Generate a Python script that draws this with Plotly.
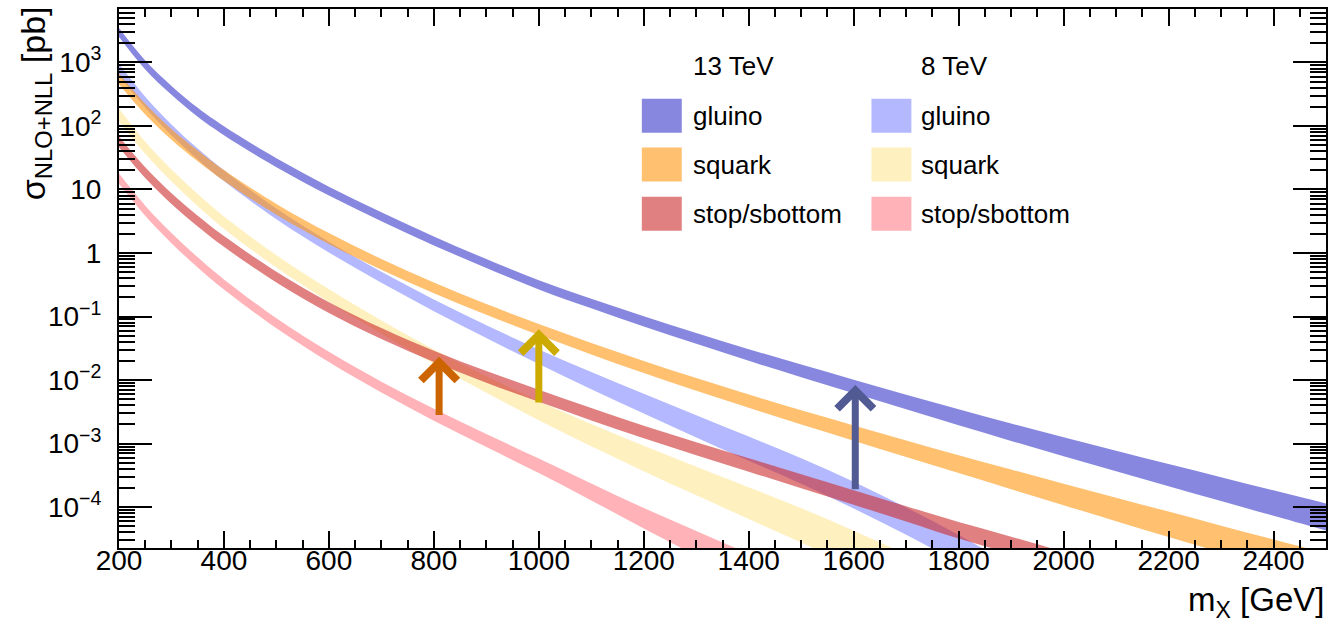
import numpy as np
import plotly.graph_objects as go

# ---------------- data ----------------
# central cross section (pb) and multiplicative uncertainty factor of the band (upper = xs*f, lower = xs/f)
m_gluino13 = [200, 250, 300, 350, 400, 500, 600, 700, 800, 900, 1000, 1100, 1200, 1300, 1400, 1500, 1600,
              1700, 1800, 1900, 2000, 2100, 2200, 2300, 2400, 2500]
xs_gluino13 = [2951, 912, 363, 164, 84.1, 26.3, 9.44, 3.72, 1.549, 0.684, 0.316, 0.1603, 0.0841, 0.0452,
               0.0248, 0.01396, 0.00794, 0.00452, 0.0026, 0.001514, 0.000891, 0.000531, 0.000318,
               0.000192, 0.0001159, 7.0e-5]
f_gluino13 = [1.175, 1.175, 1.175, 1.175, 1.175, 1.175, 1.175, 1.175, 1.175, 1.175, 1.180, 1.189, 1.202,
              1.216, 1.236, 1.259, 1.280, 1.303, 1.334, 1.371, 1.413, 1.452, 1.496, 1.542, 1.585, 1.633]

m_squark13 = [200, 250, 300, 350, 400, 500, 600, 700, 800, 900, 1000, 1100, 1200, 1300, 1400, 1500, 1600,
              1700, 1800, 1900, 2000, 2100, 2200, 2300, 2400, 2500]
xs_squark13 = [549.5, 184.1, 73.96, 33.73, 16.63, 4.875, 1.694, 0.6622, 0.2818, 0.1294, 0.06252, 0.03119,
               0.01611, 0.008551, 0.004656, 0.002588, 0.001469, 0.000832, 0.0004753, 0.0002735, 0.0001585,
               9.204e-5, 5.37e-5, 3.141e-5, 1.845e-5, 1.086e-5]
f_squark13 = [1.216, 1.216, 1.216, 1.216, 1.216, 1.216, 1.216, 1.216, 1.216, 1.216, 1.220, 1.230, 1.245,
              1.259, 1.274, 1.294, 1.318, 1.349, 1.380, 1.429, 1.479, 1.531, 1.585, 1.622, 1.679, 1.738]

m_stop13 = [200, 250, 300, 350, 400, 500, 600, 700, 800, 900, 1000, 1100, 1200, 1300, 1400, 1500, 1600,
            1700, 1800, 1900, 2000]
xs_stop13 = [56.23, 18.41, 7.194, 3.177, 1.524, 0.4178, 0.1387, 0.0542, 0.02366, 0.01125, 0.005662,
             0.002904, 0.001524, 0.000832, 0.0004613, 0.0002559, 0.0001422, 7.852e-5, 4.315e-5, 2.512e-5,
             1.413e-5]
f_stop13 = [1.216, 1.216, 1.216, 1.216, 1.216, 1.216, 1.216, 1.220, 1.228, 1.236, 1.245, 1.252, 1.259,
            1.266, 1.274, 1.288, 1.303, 1.318, 1.349, 1.365, 1.400]

m_gluino8 = [200, 250, 300, 350, 400, 500, 600, 700, 800, 900, 1000, 1100, 1200, 1300, 1400, 1500, 1600,
             1700, 1800, 1900]
xs_gluino8 = [776.2, 237.7, 87.1, 36.22, 16.48, 4.13, 1.239, 0.415, 0.1503, 0.0578, 0.02333, 0.009795,
              0.004246, 0.001875, 0.0008356, 0.0003698, 0.0001549, 6.026e-5, 2.188e-5, 7.413e-6]
f_gluino8 = [1.230, 1.216, 1.216, 1.216, 1.216, 1.216, 1.216, 1.220, 1.235, 1.262, 1.303, 1.365, 1.429,
             1.496, 1.549, 1.585, 1.622, 1.641, 1.660, 1.679]

m_squark8 = [200, 250, 300, 350, 400, 500, 600, 700, 800, 900, 1000, 1100, 1200, 1300, 1400, 1500, 1600, 1700]
xs_squark8 = [147.9, 45.29, 16.6, 6.792, 3.006, 0.7379, 0.2133, 0.06823, 0.02344, 0.008511, 0.003296,
              0.001358, 0.0005834, 0.0002576, 0.0001156, 5.152e-5, 2.228e-5, 9.268e-6]
f_squark8 = [1.259, 1.245, 1.245, 1.245, 1.245, 1.252, 1.259, 1.272, 1.295, 1.345, 1.413, 1.496, 1.585,
             1.679, 1.778, 1.862, 1.905, 1.950]

m_stop8 = [200, 250, 300, 350, 400, 500, 600, 700, 800, 900, 1000, 1100, 1200, 1300, 1400]
xs_stop8 = [14.79, 4.634, 1.714, 0.7129, 0.3199, 0.07852, 0.02312, 0.007745, 0.002844, 0.001122,
            0.0004467, 0.0001738, 6.683e-5, 2.692e-5, 1.072e-5]
f_stop8 = [1.202, 1.202, 1.202, 1.202, 1.202, 1.202, 1.205, 1.220, 1.240, 1.265, 1.300, 1.360, 1.450,
           1.570, 1.720]

# arrows: mass, start (8 TeV) and end (13 TeV) cross section in pb
arrow_mass = [810, 1000, 1603]
arrow_from = [0.00266, 0.00422, 0.000182]
arrow_to = [0.0234, 0.063, 0.0084]
arrow_colors = ["#cc6400", "#ccaa00", "#515a92"]

legend_headers = ["13 TeV", "8 TeV"]
legend_names = ["gluino", "squark", "stop/sbottom"]

x_tickvals = [200, 400, 600, 800, 1000, 1200, 1400, 1600, 1800, 2000, 2200, 2400]
y_tickvals = [1e-4, 1e-3, 1e-2, 1e-1, 1, 10, 100, 1000]
y_ticktext = ["10<sup>\u22124</sup>", "10<sup>\u22123</sup>", "10<sup>\u22122</sup>", "10<sup>\u22121</sup>",
              "1", "10", "10<sup>2</sup>", "10<sup>3</sup>"]

# ---------------- styling ----------------
FONT = "Liberation Sans, Arial, Helvetica, sans-serif"
col = {
    ("gluino", 13): "rgba(55,55,203,0.6)",
    ("squark", 13): "rgba(255,150,17,0.6)",
    ("stop/sbottom", 13): "rgba(203,43,43,0.6)",
    ("gluino", 8): "rgba(103,113,255,0.5)",
    ("squark", 8): "rgba(255,225,129,0.5)",
    ("stop/sbottom", 8): "rgba(255,103,113,0.5)",
}

bands = [
    ("gluino", 8, m_gluino8, xs_gluino8, f_gluino8),
    ("squark", 8, m_squark8, xs_squark8, f_squark8),
    ("stop/sbottom", 8, m_stop8, xs_stop8, f_stop8),
    ("gluino", 13, m_gluino13, xs_gluino13, f_gluino13),
    ("squark", 13, m_squark13, xs_squark13, f_squark13),
    ("stop/sbottom", 13, m_stop13, xs_stop13, f_stop13),
]

fig = go.Figure()
for name, e, m, xs, f in bands:
    xs = np.array(xs)
    f = np.array(f)
    lo = xs / f
    hi = xs * f
    fig.add_trace(go.Scatter(x=m, y=lo, mode="lines", line=dict(width=0, shape="spline", smoothing=1.0),
                             showlegend=False, hoverinfo="skip"))
    fig.add_trace(go.Scatter(x=m, y=hi, mode="lines", line=dict(width=0, shape="spline", smoothing=1.0),
                             fill="tonexty", fillcolor=col[(name, e)], showlegend=False,
                             name=f"{name} {e} TeV"))

# plot area in pixels
L, R, T, B = 119, 1, 9, 75
W, H = 1329, 623
pw, ph = W - L - R, H - T - B


def px(x):
    return (x - L) / pw


def py(y):
    return (H - B - y) / ph


annotations = []
shapes = []
# arrows
for mm, a, b, c in zip(arrow_mass, arrow_from, arrow_to, arrow_colors):
    annotations.append(dict(x=mm, y=np.log10(b), ax=mm, ay=np.log10(a), xref="x", yref="y",
                            axref="x", ayref="y", text="", showarrow=True, arrowhead=4,
                            arrowsize=1.0, arrowwidth=7, arrowcolor=c, standoff=0))

# legend (two columns)
col_box_x = [642.7, 872.7]
col_txt_x = [691.7, 920.7]
row_y = [115.8, 164.5, 213.8]
for ci, (hdr, e) in enumerate(zip(legend_headers, [13, 8])):
    annotations.append(dict(x=px(col_txt_x[ci]), y=py(66), xref="paper", yref="paper", text=hdr,
                            showarrow=False, xanchor="left", yanchor="middle",
                            font=dict(family=FONT, size=26, color="black")))
    for ri, nm in enumerate(legend_names):
        shapes.append(dict(type="rect", xref="paper", yref="paper",
                           x0=px(col_box_x[ci]), x1=px(col_box_x[ci] + 40),
                           y0=py(row_y[ri] + 17), y1=py(row_y[ri] - 17),
                           fillcolor=col[(nm, e)], line=dict(width=0)))
        annotations.append(dict(x=px(col_txt_x[ci]), y=py(row_y[ri]), xref="paper", yref="paper",
                                text=nm, showarrow=False, xanchor="left", yanchor="middle",
                                font=dict(family=FONT, size=26, color="black")))

# axis titles
annotations.append(dict(x=px(36), y=py(4), xref="paper", yref="paper", textangle=-90,
                        text="\u03c3<sub>NLO+NLL</sub> [pb]", showarrow=False,
                        xanchor="center", yanchor="top", font=dict(family=FONT, size=34, color="black")))
annotations.append(dict(x=1.0, y=py(579), xref="paper", yref="paper",
                        text="m<sub>X</sub> [GeV]", showarrow=False,
                        xanchor="right", yanchor="top", font=dict(family=FONT, size=33, color="black")))

fig.update_layout(
    width=W, height=H,
    margin=dict(l=L, r=R, t=T, b=B, pad=0),
    paper_bgcolor="white", plot_bgcolor="white",
    font=dict(family=FONT, color="black"),
    showlegend=False,
    annotations=annotations,
    shapes=shapes,
    xaxis=dict(range=[200, 2500], tickmode="array", tickvals=x_tickvals,
               ticks="inside", ticklen=17, tickwidth=2, tickcolor="black",
               showline=True, linecolor="black", linewidth=2, mirror="allticks",
               showgrid=False, zeroline=False, tickfont=dict(size=28, family=FONT),
               ticklabelstandoff=-14,
               minor=dict(ticks="inside", ticklen=8, tickwidth=2, tickcolor="black",
                          dtick=50, tick0=200, showgrid=False)),
    yaxis=dict(type="log", range=[-4.643, 3.841], tickmode="array", tickvals=y_tickvals,
               ticktext=y_ticktext, ticks="inside", ticklen=33, tickwidth=2, tickcolor="black",
               showline=True, linecolor="black", linewidth=2, mirror="allticks",
               showgrid=False, zeroline=False, tickfont=dict(size=28, family=FONT),
               ticklabelstandoff=10,
               minor=dict(ticks="inside", ticklen=16, tickwidth=2, tickcolor="black",
                          dtick="D1", showgrid=False)),
)

fig.write_html("out.html")
